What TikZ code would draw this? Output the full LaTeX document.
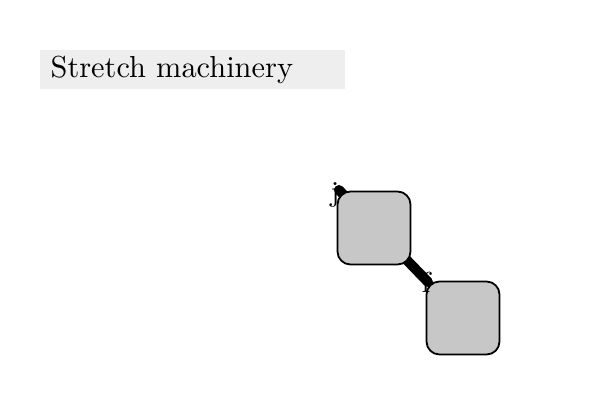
\documentclass[tikz,border=0pt]{standalone}
\usepackage{fontspec}
\begin{document}
\begin{tikzpicture}[x=1bp,y=-1bp,
  banner/.style={fill=black!6.5,draw=none,minimum width=305bp,minimum height=39bp,inner sep=0pt,anchor=north west},
  titletext/.style={font=\fontsize{10}{12}\selectfont,scale=3.05,transform shape,anchor=west,inner sep=0pt},
  boxnode/.style={draw=black,line width=1.8bp,fill=black!22,rounded corners=13bp,minimum width=73bp,minimum height=73bp,inner sep=0pt},
  endlabel/.style={font=\fontsize{10}{12}\selectfont,scale=2.9,transform shape,inner sep=0pt},
  thickline/.style={line width=10bp,line cap=round}]
\useasboundingbox (0,0) rectangle (600,400);
\node[banner] (bn) at (40,50) {};
\node[titletext] (tt) at (50,70) {Stretch machinery};
\coordinate (s) at (339,190);
\coordinate (e) at (428,282);
\draw[thickline] (s) -- (e);
\node[boxnode] (b1) at (374,228) {};
\node[boxnode] (b2) at (463,318) {};
\node[endlabel] (lj) at (335,194.5) {j};
\node[endlabel] (lf) at (426,282) {f};
\end{tikzpicture}
\end{document}
